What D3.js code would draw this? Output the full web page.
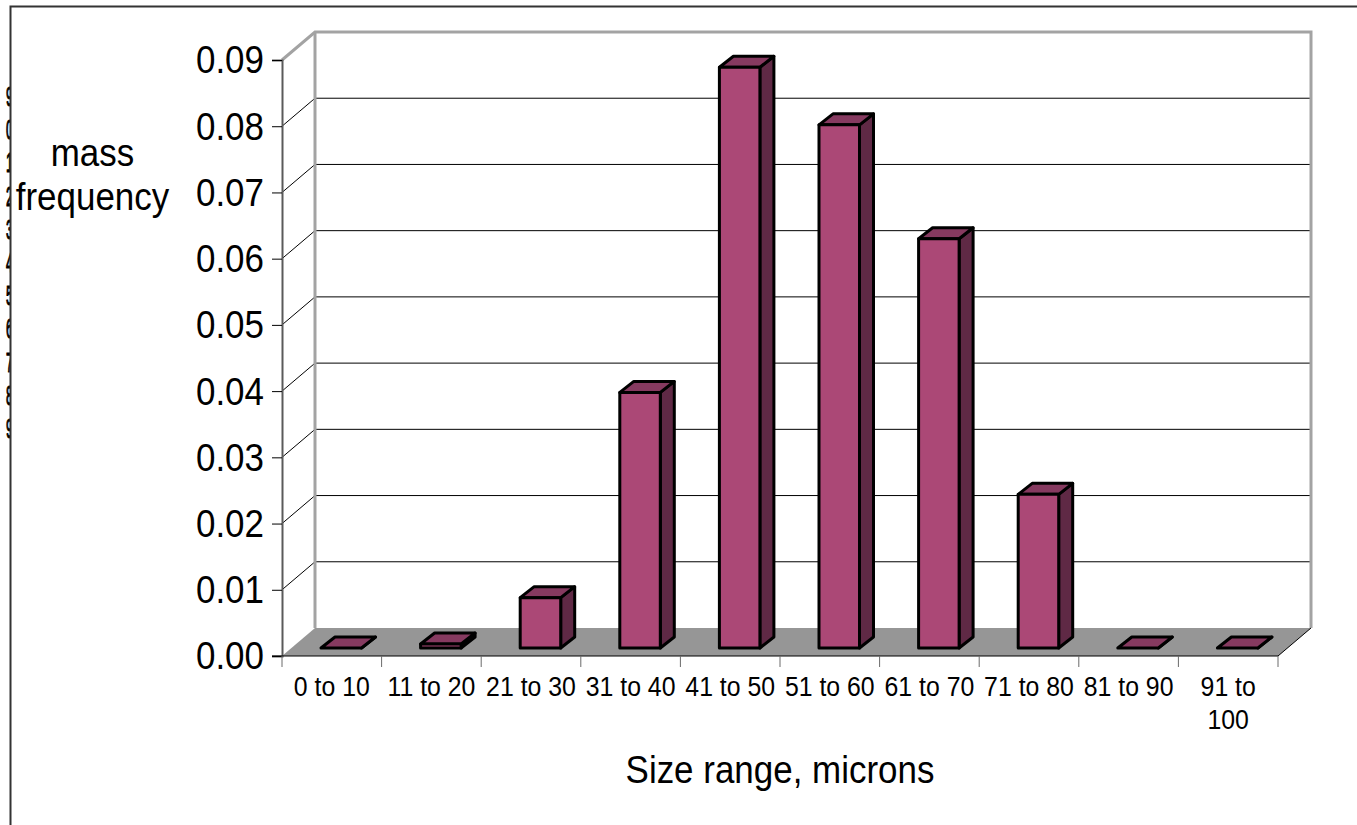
<!DOCTYPE html>
<html>
<head>
<meta charset="utf-8">
<script src="https://cdn.jsdelivr.net/npm/d3@7"></script>
<style>
  html, body { margin: 0; padding: 0; background: #fff; overflow: hidden; }
  text { font-family: "Liberation Sans", Arial, sans-serif; fill: #000; }
</style>
</head>
<body>
<div id="chart"></div>
<script>
/* DATA */
const categories = ["0 to 10", "11 to 20", "21 to 30", "31 to 40", "41 to 50",
  "51 to 60", "61 to 70", "71 to 80", "81 to 90", "91 to 100"];
const massFrequency = [0, 0.0006, 0.0076, 0.0386, 0.0877, 0.0790, 0.0618, 0.0232, 0, 0];
const yTicks = [0, 0.01, 0.02, 0.03, 0.04, 0.05, 0.06, 0.07, 0.08, 0.09];
const yTitle = ["mass", "frequency"];
const xTitle = "Size range, microns";
// digits of a label column cut off by the frame on the left
const strayDigits = ["9", "0", "1", "2", "3", "4", "5", "6", "7", "8", "9"];

/* LAYOUT */
const width = 1357, height = 825;
const plot = {left: 282, right: 1278, top: 60, bottom: 656};
const wall = {dx: 33, dy: -28};   // offset of the back wall
const barDepth = {dx: 14, dy: -11};
const barInset = 8;               // bar base sits this far behind the front edge
const squeeze = 0.92;             // the original type is a bit narrow and tall

const svg = d3.select("#chart").append("svg")
  .attr("width", width)
  .attr("height", height)
  .style("display", "block");

const x = d3.scaleBand().domain(categories).range([plot.left, plot.right]);
const y = d3.scaleLinear().domain([0, 0.09]).range([plot.bottom, plot.top]);
const barW = 40.5, barOffset = 39;

// clipped digit column
svg.append("clipPath").attr("id", "frame-clip")
  .append("rect").attr("x", 0).attr("y", 0).attr("width", 10).attr("height", height);
svg.append("g")
  .attr("clip-path", "url(#frame-clip)")
  .selectAll("text").data(strayDigits).join("text")
  .attr("transform", (d, i) => `translate(6,${106 + i * 33.2}) scale(0.45,1)`)
  .attr("stroke", "#000")
  .attr("stroke-width", 1.2)
  .style("font-size", "28.5px")
  .text(d => d);

// frame
svg.append("path")
  .attr("d", `M10.5,${height}V6.5H${width}`)
  .attr("fill", "none")
  .attr("stroke", "#333")
  .attr("stroke-width", 2);

// floor
svg.append("path")
  .attr("d", d3.line()([
    [plot.left, plot.bottom],
    [plot.left + wall.dx, plot.bottom + wall.dy],
    [plot.right + wall.dx, plot.bottom + wall.dy],
    [plot.right, plot.bottom]
  ]) + "Z")
  .attr("fill", "#969696");

// gridlines along side and back wall
svg.append("g").selectAll("path")
  .data(yTicks.filter(d => d > 0 && d < 0.09))
  .join("path")
  .attr("d", d => d3.line()([
    [plot.left, y(d)],
    [plot.left + wall.dx, y(d) + wall.dy],
    [plot.right + wall.dx, y(d) + wall.dy]
  ]))
  .attr("fill", "none")
  .attr("stroke", "#000")
  .attr("stroke-width", 1);

// walls
svg.append("path")
  .attr("d", d3.line()([
    [plot.left, y(0.09)],
    [plot.left + wall.dx, y(0.09) + wall.dy],
    [plot.right + wall.dx, y(0.09) + wall.dy],
    [plot.right + wall.dx, y(0) + wall.dy]
  ]))
  .attr("fill", "none")
  .attr("stroke", "#a3a3a3")
  .attr("stroke-width", 3);
svg.append("path")
  .attr("d", `M${plot.left + wall.dx},${y(0.09) + wall.dy}V${y(0) + wall.dy}`)
  .attr("stroke", "#a3a3a3")
  .attr("stroke-width", 3);

// floor edge on the right
svg.append("path")
  .attr("d", d3.line()([
    [plot.right, plot.bottom],
    [plot.right + wall.dx, plot.bottom + wall.dy]
  ]))
  .attr("stroke", "#000")
  .attr("stroke-width", 1);

// bars
const bars = svg.append("g").selectAll("g")
  .data(categories.map((c, i) => ({c, v: massFrequency[i]})))
  .join("g")
  .attr("stroke", "#000")
  .attr("stroke-width", 3)
  .attr("stroke-linejoin", "round");

const barX = d => x(d.c) + barOffset;
const barTop = d => y(d.v) - barInset;
const barBase = plot.bottom - barInset;

bars.append("path") // side
  .attr("fill", "#5f2945")
  .attr("d", d => d3.line()([
    [barX(d) + barW, barBase],
    [barX(d) + barW + barDepth.dx, barBase + barDepth.dy],
    [barX(d) + barW + barDepth.dx, barTop(d) + barDepth.dy],
    [barX(d) + barW, barTop(d)]
  ]) + "Z");
bars.append("path") // top
  .attr("fill", "#863a60")
  .attr("d", d => d3.line()([
    [barX(d), barTop(d)],
    [barX(d) + barDepth.dx, barTop(d) + barDepth.dy],
    [barX(d) + barW + barDepth.dx, barTop(d) + barDepth.dy],
    [barX(d) + barW, barTop(d)]
  ]) + "Z");
bars.append("rect") // front
  .attr("fill", "#ab4876")
  .attr("x", barX)
  .attr("y", barTop)
  .attr("width", barW)
  .attr("height", d => barBase - barTop(d));

// y axis
const yAxis = d3.axisLeft(y)
  .tickValues(yTicks)
  .tickFormat(d3.format(".2f"))
  .tickSize(10)
  .tickPadding(7);
const gy = svg.append("g")
  .attr("transform", `translate(${plot.left},0)`)
  .call(yAxis);
gy.select(".domain").attr("stroke", "#5a5a5a").attr("stroke-width", 2);
gy.selectAll(".tick line").attr("stroke", "#000").attr("stroke-width", 1);
gy.selectAll(".tick text")
  .style("font-size", "38px")
  .attr("dy", "0.34em")
  .attr("x", -18 / squeeze)
  .attr("transform", `scale(${squeeze},1)`);

// x axis, labels only; the ticks sit on the band edges
const xAxis = d3.axisBottom(x).tickSize(0).tickPadding(0);
const gx = svg.append("g")
  .attr("transform", `translate(0,${plot.bottom})`)
  .call(xAxis);
gx.select(".domain").remove();
gx.selectAll(".tick text")
  .style("font-size", "27px")
  .attr("dy", null)
  .attr("y", 40)
  .attr("transform", `scale(${squeeze},1)`)
  .each(function(d) {
    const words = d.split(" ");
    if (words.length > 1 && d.length > 8) {
      const t = d3.select(this).text(null);
      t.append("tspan").attr("x", 0).text(words.slice(0, -1).join(" "));
      t.append("tspan").attr("x", 0).attr("dy", 33).text(words[words.length - 1]);
    }
  });

svg.append("path")
  .attr("d", d3.line()([[plot.left - 10, plot.bottom], [plot.right, plot.bottom]]))
  .attr("stroke", "#000")
  .attr("stroke-width", 1);
svg.append("g").selectAll("line")
  .data(categories.map(c => x(c)).concat([plot.right]))
  .join("line")
  .attr("x1", d => d).attr("x2", d => d)
  .attr("y1", plot.bottom).attr("y2", plot.bottom + 11)
  .attr("stroke", "#6a6a6a")
  .attr("stroke-width", 1);

// titles
svg.append("g").selectAll("text")
  .data(yTitle)
  .join("text")
  .attr("transform", (d, i) => `translate(92.5,${166 + i * 44}) scale(${squeeze},1)`)
  .attr("text-anchor", "middle")
  .style("font-size", "38px")
  .text(d => d);

svg.append("text")
  .attr("transform", `translate(780,783) scale(${squeeze},1)`)
  .attr("text-anchor", "middle")
  .style("font-size", "38px")
  .text(xTitle);
</script>
</body>
</html>
